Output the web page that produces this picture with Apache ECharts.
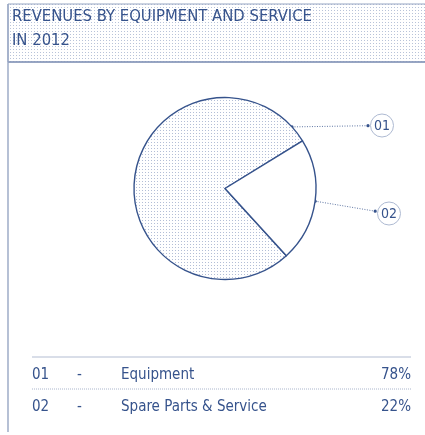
<!DOCTYPE html>
<html><head><meta charset="utf-8">
<script src="https://cdn.jsdelivr.net/npm/echarts@6/dist/echarts.min.js"></script>
<style>html,body{margin:0;padding:0;background:#fff}#c{width:425px;height:435px}</style>
</head><body><div id="c"></div>
<script>
var titleLines = ['REVENUES BY EQUIPMENT AND SERVICE', 'IN 2012'];
var codes = ['01', '02'];
var categories = ['Equipment', 'Spare Parts & Service'];
var values = [78, 22];

var INK = '#36538c';
var FONT = '"DejaVu Sans Condensed", "Liberation Sans Narrow", "DejaVu Sans", sans-serif';

function dotPattern(bg, dot) {
  var c = document.createElement('canvas');
  c.width = 3; c.height = 3;
  var g = c.getContext('2d');
  g.fillStyle = bg; g.fillRect(0, 0, 3, 3);
  g.fillStyle = dot; g.fillRect(1, 1, 1, 1);
  return c;
}
var total = values.reduce(function (a, b) { return a + b; }, 0);
// place the small slice centred slightly below the 3 o'clock direction
var smallShare = values[1] / total * 360;
var startAngle = -8 + smallShare / 2 + (360 - smallShare);

var chart = echarts.init(document.getElementById('c'), null, {renderer: 'canvas'});

var tableGraphics = [];
var rowY = [375, 407];
tableGraphics.push({type: 'line', shape: {x1: 32, y1: 357, x2: 411, y2: 357}, style: {stroke: '#b3bdd2', lineWidth: 1}});
tableGraphics.push({type: 'line', shape: {x1: 32, y1: 389, x2: 411, y2: 389}, style: {stroke: '#aab5cc', lineWidth: 1, lineDash: [1, 1]}});
categories.forEach(function (cat, i) {
  var ts = {fill: INK, fontSize: 15, fontFamily: FONT, verticalAlign: 'middle'};
  tableGraphics.push({type: 'text', x: 32, y: rowY[i], style: Object.assign({text: codes[i], textAlign: 'left'}, ts)});
  tableGraphics.push({type: 'text', x: 77, y: rowY[i], style: Object.assign({text: '-', textAlign: 'left'}, ts)});
  tableGraphics.push({type: 'text', x: 121, y: rowY[i], style: Object.assign({text: cat, textAlign: 'left'}, ts)});
  tableGraphics.push({type: 'text', x: 411, y: rowY[i], style: Object.assign({text: values[i] + '%', textAlign: 'right'}, ts)});
});

var headerGraphics = [
  {type: 'rect', shape: {x: 8, y: 4, width: 420, height: 58}, style: {fill: {image: dotPattern('#ffffff', '#b8c3d9'), repeat: 'repeat'}, stroke: '#97a6c3', lineWidth: 1}},
  {type: 'line', shape: {x1: 8, y1: 62, x2: 425, y2: 62}, style: {stroke: '#8696b8', lineWidth: 1.5}},
  {type: 'line', shape: {x1: 8, y1: 4, x2: 8, y2: 432}, style: {stroke: '#97a6c3', lineWidth: 1.4}},
  {type: 'text', x: 12, y: 17, style: {text: titleLines[0], fill: INK, fontSize: 16.5, fontFamily: FONT, verticalAlign: 'middle'}},
  {type: 'text', x: 12, y: 41, style: {text: titleLines[1], fill: INK, fontSize: 16.5, fontFamily: FONT, verticalAlign: 'middle'}}
];

chart.setOption({
  animation: false,
  backgroundColor: '#ffffff',
  series: [{
    type: 'pie',
    center: [225, 188.5],
    radius: 91,
    startAngle: startAngle,
    clockwise: true,
    label: {show: false},
    labelLine: {show: false},
    emphasis: {disabled: true},
    itemStyle: {borderColor: INK, borderWidth: 1.4},
    data: categories.map(function (c, i) {
      return {name: c, value: values[i], itemStyle: {color: i === 0 ? {image: dotPattern('#ffffff', '#b3bed6'), repeat: 'repeat'} : '#ffffff'}};
    })
  }],
  graphic: headerGraphics.concat(tableGraphics)
});

// callouts anchored on the pie layout computed by ECharts
var data = chart.getModel().getSeriesByIndex(0).getData();
var callouts = [];
var anchorAngles = [];
var l0 = data.getItemLayout(0), l1 = data.getItemLayout(1);
anchorAngles.push(l0.endAngle - 11 * Math.PI / 180);
anchorAngles.push((l1.startAngle + l1.endAngle) / 2);
var bubbleOffsets = [[157, -63], [164, 25]];
anchorAngles.forEach(function (a, i) {
  var L = data.getItemLayout(i);
  var ax = L.cx + L.r * Math.cos(a), ay = L.cy + L.r * Math.sin(a);
  var bx = L.cx + bubbleOffsets[i][0], by = L.cy + bubbleOffsets[i][1];
  var dx = bx - ax, dy = by - ay, d = Math.sqrt(dx * dx + dy * dy);
  var ex = bx - dx / d * 14, ey = by - dy / d * 14;
  callouts.push({type: 'line', shape: {x1: ax, y1: ay, x2: ex, y2: ey}, style: {stroke: INK, lineWidth: 0.8, lineDash: [1, 1.5]}});
  callouts.push({type: 'circle', shape: {cx: ax, cy: ay, r: 1.6}, style: {fill: INK}});
  callouts.push({type: 'circle', shape: {cx: ex, cy: ey, r: 1.6}, style: {fill: INK}});
  callouts.push({type: 'circle', shape: {cx: bx, cy: by, r: 11.5}, style: {fill: '#ffffff', stroke: '#aebad2', lineWidth: 1}});
  callouts.push({type: 'text', x: bx, y: by + 0.5, style: {text: codes[i], fill: INK, fontSize: 14, fontFamily: FONT, textAlign: 'center', verticalAlign: 'middle'}});
});
chart.setOption({graphic: headerGraphics.concat(tableGraphics).concat(callouts)});
</script>
</body></html>
